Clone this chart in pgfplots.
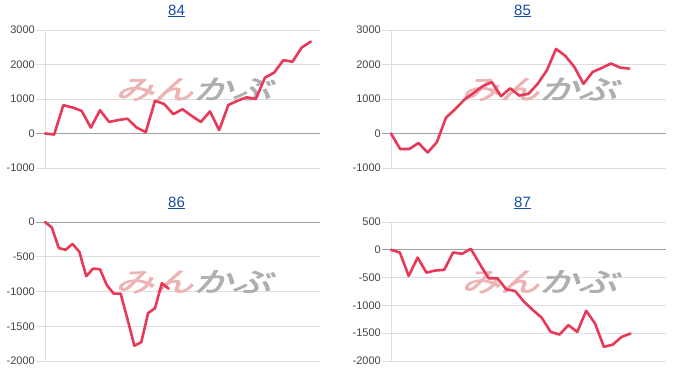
\documentclass[border=0pt]{standalone}
\usepackage{pgfplots}
\pgfplotsset{compat=1.18}
\usepackage{fontspec}
\setmainfont{Liberation Sans}
\newfontfamily\cjk{Noto Sans CJK JP}[FakeSlant=0.25,FakeBold=2.5]
\definecolor{linered}{RGB}{232,58,88}
\definecolor{titleblue}{RGB}{22,78,165}
\definecolor{ticklab}{RGB}{68,68,68}
\definecolor{gridc}{RGB}{222,222,222}
\definecolor{zeroc}{RGB}{160,160,160}
\definecolor{wmpink}{RGB}{236,180,180}
\definecolor{wmgray}{RGB}{175,175,175}

\pgfplotsset{
 panel/.style={
  scale only axis, width=284pt,
  axis line style={draw=none},
  xtick=\empty,
  ymajorgrids, major grid style={gridc, line width=0.9pt},
  major tick length=0pt,
  extra x ticks={0}, extra x tick labels={},
  extra x tick style={grid=major, major grid style={gridc, line width=0.9pt}},
  extra y ticks={0}, extra y tick labels={},
  extra y tick style={grid=major, major grid style={zeroc, line width=0.9pt}},
  yticklabel style={font=\fontsize{11}{13}\selectfont, text=ticklab, inner sep=1pt},
  /pgf/number format/assume math mode=true,
  /pgf/number format/1000 sep={},
  scaled y ticks=false,
  title style={at={(0.495,1)}, anchor=base, yshift=9pt, font=\fontsize{15}{17}\selectfont, text=titleblue},
  clip=false,
 },
 series/.style={linered, line width=2.6pt, line join=round, line cap=round, mark=none},
}
\newcommand{\wm}{\node[xscale=1.45, inner sep=0pt, font=\cjk\fontsize{27}{29}\selectfont] at (axis description cs:0.553,0.57) {\textcolor{wmpink}{みん}\textcolor{wmgray}{かぶ}};}

\begin{document}
\begin{tikzpicture}[x=1pt,y=1pt]
\path[use as bounding box] (0,0) rectangle (700,384);

\begin{axis}[panel, at={(36pt,216pt)}, anchor=south west, height=138pt,
  xmin=-0.98, xmax=30, ymin=-1000, ymax=3000, ytick={-1000,0,1000,2000,3000},
  title={\underline{84}}]
\wm
\addplot[series] coordinates {(0,0)(1,-30)(2,820)(3,755)(4,655)(5,170)(6,675)(7,335)(8,390)(9,430)(10,170)(11,40)(12,950)(13,855)(14,560)(15,705)(16,510)(17,335)(18,640)(19,100)(20,825)(21,950)(22,1050)(23,1000)(24,1620)(25,1765)(26,2125)(27,2080)(28,2490)(29,2665)};
\end{axis}

\begin{axis}[panel, at={(382pt,216pt)}, anchor=south west, height=138pt,
  xmin=-0.98, xmax=30, ymin=-1000, ymax=3000, ytick={-1000,0,1000,2000,3000},
  title={\underline{85}}]
\wm
\addplot[series] coordinates {(0,0)(1,-450)(2,-450)(3,-275)(4,-550)(5,-255)(6,460)(7,705)(8,980)(9,1175)(10,1370)(11,1490)(12,1080)(13,1310)(14,1100)(15,1150)(16,1440)(17,1830)(18,2450)(19,2255)(20,1930)(21,1440)(22,1785)(23,1900)(24,2030)(25,1910)(26,1880)};
\end{axis}

\begin{axis}[panel, at={(36pt,23pt)}, anchor=south west, height=139pt,
  xmin=-1.31, xmax=40, ymin=-2000, ymax=0, ytick={-2000,-1500,-1000,-500,0},
  title={\underline{86}}]
\wm
\addplot[series] coordinates {(0,0)(1,-80)(2,-375)(3,-400)(4,-315)(5,-430)(6,-780)(7,-670)(8,-680)(9,-910)(10,-1030)(11,-1030)(12,-1400)(13,-1780)(14,-1730)(15,-1310)(16,-1240)(17,-880)(18,-960)};
\end{axis}

\begin{axis}[panel, at={(382pt,23pt)}, anchor=south west, height=139pt,
  xmin=-1.01, xmax=31, ymin=-2000, ymax=500, ytick={-2000,-1500,-1000,-500,0,500},
  title={\underline{87}}]
\wm
\addplot[series] coordinates {(0,0)(1,-48)(2,-470)(3,-139)(4,-410)(5,-373)(6,-361)(7,-48)(8,-72)(9,18)(10,-253)(11,-512)(12,-512)(13,-711)(14,-741)(15,-934)(16,-1084)(17,-1223)(18,-1476)(19,-1524)(20,-1355)(21,-1476)(22,-1096)(23,-1325)(24,-1747)(25,-1705)(26,-1566)(27,-1506)};
\end{axis}
\end{tikzpicture}
\end{document}
